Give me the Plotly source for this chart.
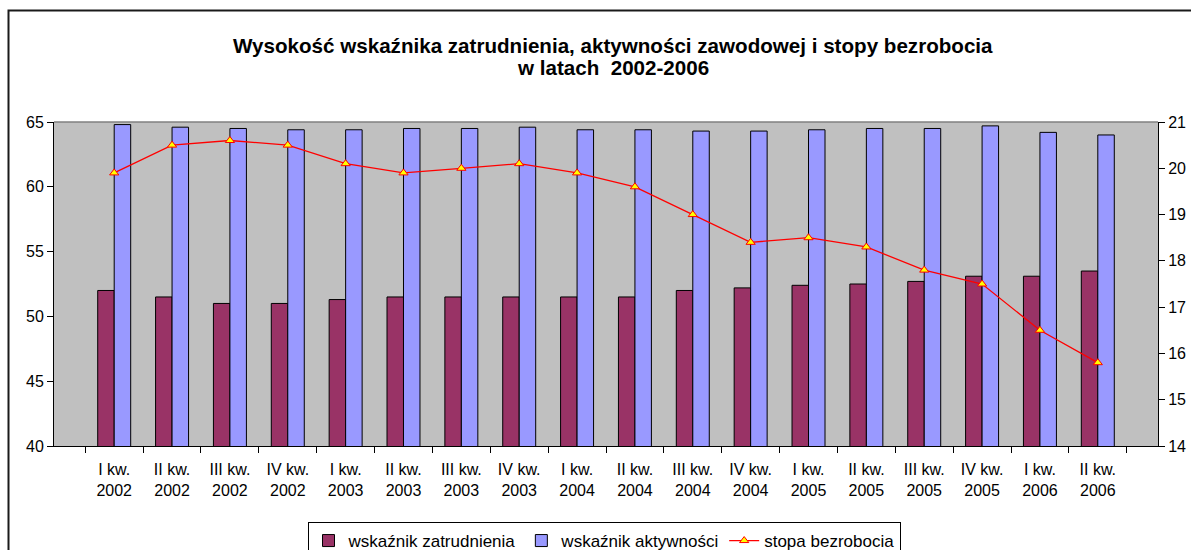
import plotly.graph_objects as go

categories = ["I kw.<br>2002", "II kw.<br>2002", "III kw.<br>2002", "IV kw.<br>2002",
              "I kw.<br>2003", "II kw.<br>2003", "III kw.<br>2003", "IV kw.<br>2003",
              "I kw.<br>2004", "II kw.<br>2004", "III kw.<br>2004", "IV kw.<br>2004",
              "I kw.<br>2005", "II kw.<br>2005", "III kw.<br>2005", "IV kw.<br>2005",
              "I kw.<br>2006", "II kw.<br>2006"]
zatrudnienie = [52.0, 51.5, 51.0, 51.0, 51.3, 51.5, 51.5, 51.5, 51.5, 51.5, 52.0, 52.2,
                52.4, 52.5, 52.7, 53.1, 53.1, 53.5]
aktywnosc = [64.8, 64.6, 64.5, 64.4, 64.4, 64.5, 64.5, 64.6, 64.4, 64.4, 64.3, 64.3,
             64.4, 64.5, 64.5, 64.7, 64.2, 64.0]
bezrobocie = [19.9, 20.5, 20.6, 20.5, 20.1, 19.9, 20.0, 20.1, 19.9, 19.6, 19.0, 18.4,
              18.5, 18.3, 17.8, 17.5, 16.5, 15.8]
title_lines = ["Wysokość wskaźnika zatrudnienia, aktywności zawodowej i stopy bezrobocia",
               "w latach  2002-2006"]

FONT = "Liberation Sans, Arial, sans-serif"
W, H = 1191, 550
L, R, T, B = 54, 33, 122, 104
PW, PH = W - L - R, H - T - B


def px_x(x):
    return (x - L) / PW


def px_y(y):
    return (H - B - y) / PH


fig = go.Figure()
fig.add_trace(go.Bar(x=categories, y=zatrudnienie, name="wskaźnik zatrudnienia",
                     marker=dict(color="#993366", line=dict(color="black", width=1)),
                     yaxis="y"))
fig.add_trace(go.Bar(x=categories, y=aktywnosc, name="wskaźnik aktywności",
                     marker=dict(color="#9999FF", line=dict(color="black", width=1)),
                     yaxis="y"))
fig.add_trace(go.Scatter(x=categories, y=bezrobocie, name="stopa bezrobocia",
                         mode="lines+markers", yaxis="y2",
                         line=dict(color="#FF0000", width=1.3),
                         marker=dict(symbol="triangle-up", size=8, color="#FFFF00",
                                     line=dict(color="#FF0000", width=1))))

annotations = []
for txt, yc in zip(title_lines, [45, 68]):
    annotations.append(dict(text="<b>" + txt + "</b>", xref="paper", yref="paper",
                            x=px_x(613), y=px_y(yc), xanchor="center", yanchor="middle",
                            showarrow=False, font=dict(family=FONT, size=20.6, color="black")))

fig.update_layout(
    width=W, height=H,
    margin=dict(l=L, r=R, t=T, b=B, pad=0, autoexpand=False),
    paper_bgcolor="white", plot_bgcolor="#C0C0C0",
    font=dict(family=FONT, size=15, color="black"),
    annotations=annotations,
    barmode="group", bargap=0.43, bargroupgap=0,
    showlegend=True,
    legend=dict(orientation="h", x=px_x(604), xanchor="center", y=px_y(522), yanchor="top",
                bordercolor="black", borderwidth=1, bgcolor="white",
                font=dict(family=FONT, size=17), itemwidth=30, tracegroupgap=0),
    xaxis=dict(type="category", showline=True, linecolor="black", linewidth=1,
               ticks="outside", ticklen=6, tickcolor="black", tickson="boundaries",
               showgrid=False, tickfont=dict(size=16), tickangle=0, ticklabelstandoff=9),
    yaxis=dict(range=[40, 65], dtick=5, showline=True, linecolor="black", linewidth=1,
               ticks="outside", ticklen=6, tickcolor="black", showgrid=False,
               zeroline=False, tickfont=dict(size=16)),
    yaxis2=dict(range=[14, 21], dtick=1, overlaying="y", side="right", showline=True,
                linecolor="black", linewidth=1, ticks="outside", ticklen=6,
                tickcolor="black", showgrid=False, zeroline=False,
                tickfont=dict(size=16)),
    shapes=[
        dict(type="line", xref="paper", yref="paper", x0=0, x1=1, y0=1, y1=1,
             line=dict(color="#808080", width=1.5)),
        dict(type="rect", xref="paper", yref="paper",
             x0=px_x(8.5), x1=px_x(1205), y0=px_y(560), y1=px_y(10.5),
             line=dict(color="#1a1a1a", width=2), fillcolor="rgba(0,0,0,0)", layer="above"),
    ],
)

fig.write_html("out.html", config={"displayModeBar": False},
               post_script="document.body.style.margin='0px';")
